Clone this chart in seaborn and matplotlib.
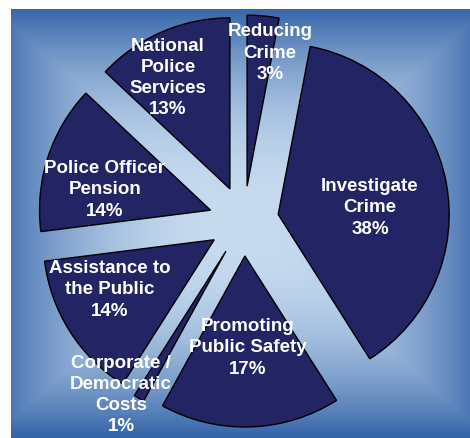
import numpy as np
import matplotlib
matplotlib.use("Agg")
import matplotlib.pyplot as plt
import seaborn as sns
from matplotlib.colors import to_rgb

# ---- data (clockwise from 12 o'clock) ----
categories = ["Reducing\nCrime", "Investigate\nCrime", "Promoting\nPublic Safety",
              "Corporate /\nDemocratic\nCosts", "Assistance to\nthe Public",
              "Police Officer\nPension", "National\nPolice\nServices"]
shares = [3, 38, 17, 1, 14, 14, 13]
pct_labels = [f"{v}%" for v in shares]

# ---- layout (pixel coordinates, y measured downward) ----
W, H = 470, 438
pie_center_px = (243.8, 221)
pie_radius = 171
explode_px = 35
label_pos_px = [(270, 53), (370, 208), (248, 348), (121, 395),
                (110, 290), (105, 190), (168, 78)]

sns.set_style("white")
plt.rcParams['font.family'] = ['Liberation Sans', 'DejaVu Sans']

fig = plt.figure(figsize=(W / 100, H / 100), dpi=100)
ax = fig.add_axes([0, 0, 1, 1])

# background: rectangular radial gradient
x0, x1, y0, y1 = 11, 470, 9, 438
xs = np.arange(x0, x1) + 0.5
ys = np.arange(y0, y1) + 0.5
X, Y = np.meshgrid(xs, ys)
t = np.maximum(np.abs(X - 240) / 250, np.abs(Y - 222) / 215)
f = np.clip(t, 0, 1) ** 2.2
c0 = np.array(to_rgb("#c8dcf0"))
c1 = np.array(to_rgb("#3363a8"))
img = c0 + (c1 - c0) * f[..., None]
ax.imshow(img, extent=(x0, x1, H - y1, H - y0), origin='upper', zorder=0,
          interpolation='bilinear')

navy = sns.color_palette(["#222464"])[0]
wedges, _ = ax.pie(shares, startangle=90, counterclock=False,
                   explode=[explode_px] * len(shares), radius=pie_radius,
                   center=(pie_center_px[0], H - pie_center_px[1]),
                   colors=[navy] * len(shares), frame=True,
                   wedgeprops=dict(edgecolor='black', linewidth=1.0))
for w in wedges:
    w.set_zorder(2)

for name, pct, (lx, ly) in zip(categories, pct_labels, label_pos_px):
    ax.text(lx, H - ly, f"{name}\n{pct}", ha='center', va='center',
            color='white', fontsize=13.5, fontweight='bold',
            linespacing=1.32, zorder=3)

ax.set_xlim(0, W)
ax.set_ylim(0, H)
ax.set_aspect('equal')
ax.axis('off')
fig.savefig("out.png", dpi=100, facecolor='white')
